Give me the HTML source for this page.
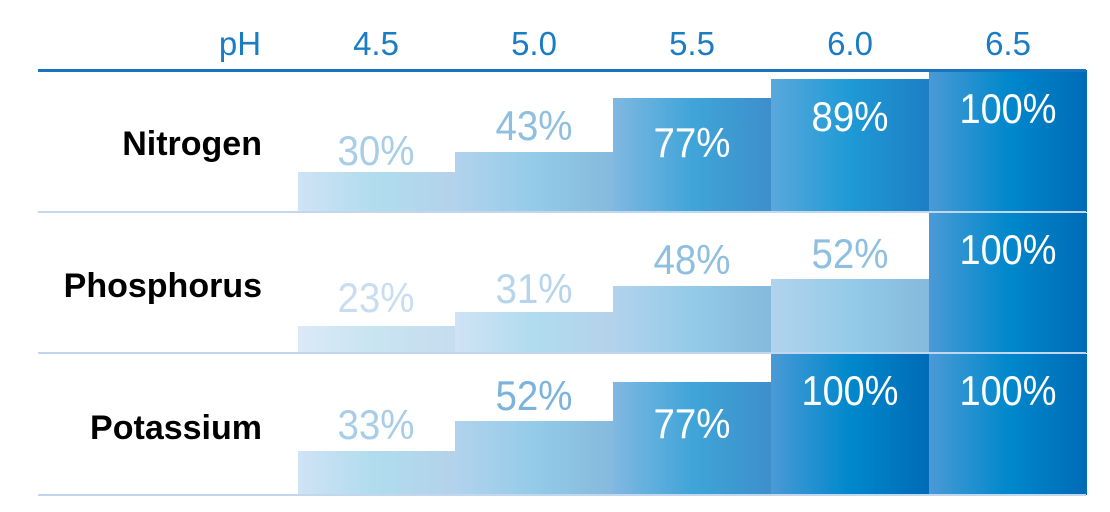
<!DOCTYPE html>
<html><head><meta charset="utf-8"><style>
html,body{margin:0;padding:0;background:#fff;}
svg{display:block;}
text{font-family:"Liberation Sans",sans-serif;}
.v{font-size:42px;text-anchor:middle;}
.r{font-size:34px;font-weight:bold;text-anchor:end;fill:#000;}
.h{font-size:33px;fill:#1a7cc4;text-anchor:middle;}
</style></head><body>
<svg width="1110" height="512" viewBox="0 0 1110 512" xmlns="http://www.w3.org/2000/svg">
<defs>
<linearGradient id="g0" x1="0" x2="1"><stop offset="0" stop-color="#dbe9f6"/><stop offset="0.5" stop-color="#c8e4f2"/><stop offset="1" stop-color="#c6dcef"/></linearGradient>
<linearGradient id="gA" x1="0" x2="1"><stop offset="0" stop-color="#cfe3f4"/><stop offset="0.5" stop-color="#b0dcee"/><stop offset="1" stop-color="#b4d2ea"/></linearGradient>
<linearGradient id="gB" x1="0" x2="1"><stop offset="0" stop-color="#b2d3ed"/><stop offset="0.5" stop-color="#94cbe8"/><stop offset="1" stop-color="#86b9dd"/></linearGradient>
<linearGradient id="gC" x1="0" x2="1"><stop offset="0" stop-color="#80b8e2"/><stop offset="0.5" stop-color="#3fa5d8"/><stop offset="1" stop-color="#3e8fcb"/></linearGradient>
<linearGradient id="gD" x1="0" x2="1"><stop offset="0" stop-color="#5aa8dc"/><stop offset="0.5" stop-color="#1e9ad6"/><stop offset="1" stop-color="#1d7ec4"/></linearGradient>
<linearGradient id="gE" x1="0" x2="1"><stop offset="0" stop-color="#4a9ad6"/><stop offset="0.5" stop-color="#0088cc"/><stop offset="1" stop-color="#006bb6"/></linearGradient>
</defs>
<text class="h" x="240" y="55">pH</text>
<text class="h" x="376" y="55">4.5</text>
<text class="h" x="534" y="55">5.0</text>
<text class="h" x="692" y="55">5.5</text>
<text class="h" x="850" y="55">6.0</text>
<text class="h" x="1008" y="55">6.5</text>
<rect x="298" y="172" width="157" height="40" fill="url(#gA)"/>
<rect x="455" y="152" width="158" height="60" fill="url(#gB)"/>
<rect x="613" y="98" width="158" height="114" fill="url(#gC)"/>
<rect x="771" y="79" width="158" height="133" fill="url(#gD)"/>
<rect x="929" y="70" width="158" height="142" fill="url(#gE)"/>
<rect x="298" y="326" width="157" height="27" fill="url(#g0)"/>
<rect x="455" y="312" width="158" height="41" fill="url(#gA)"/>
<rect x="613" y="286" width="158" height="67" fill="url(#gB)"/>
<rect x="771" y="279" width="158" height="74" fill="url(#gB)"/>
<rect x="929" y="213" width="158" height="140" fill="url(#gE)"/>
<rect x="298" y="451" width="157" height="44" fill="url(#gA)"/>
<rect x="455" y="421" width="158" height="74" fill="url(#gB)"/>
<rect x="613" y="382" width="158" height="113" fill="url(#gC)"/>
<rect x="771" y="354" width="158" height="141" fill="url(#gE)"/>
<rect x="929" y="354" width="158" height="141" fill="url(#gE)"/>
<rect x="38" y="69" width="1048" height="3" fill="#1a73c0"/>
<rect x="38" y="211" width="1048" height="2" fill="#c2d6ee"/>
<rect x="38" y="352" width="1048" height="2" fill="#c2d6ee"/>
<rect x="38" y="494" width="1048" height="2" fill="#c2d6ee"/>
<text class="r" x="262" y="155">Nitrogen</text>
<text class="r" x="262" y="297">Phosphorus</text>
<text class="r" x="262" y="439">Potassium</text>
<text class="v" x="376" y="165" fill="#a8cde6" textLength="77" lengthAdjust="spacingAndGlyphs">30%</text>
<text class="v" x="534" y="140" fill="#8fbfe0" textLength="77" lengthAdjust="spacingAndGlyphs">43%</text>
<text class="v" x="692" y="157" fill="#fff" textLength="77" lengthAdjust="spacingAndGlyphs">77%</text>
<text class="v" x="850" y="131" fill="#fff" textLength="77" lengthAdjust="spacingAndGlyphs">89%</text>
<text class="v" x="1008" y="123" fill="#fff" textLength="97" lengthAdjust="spacingAndGlyphs">100%</text>
<text class="v" x="376" y="312" fill="#c8def0" textLength="77" lengthAdjust="spacingAndGlyphs">23%</text>
<text class="v" x="534" y="303" fill="#b6d5ec" textLength="77" lengthAdjust="spacingAndGlyphs">31%</text>
<text class="v" x="692" y="274" fill="#8fbfe0" textLength="77" lengthAdjust="spacingAndGlyphs">48%</text>
<text class="v" x="850" y="268" fill="#8fbfe0" textLength="77" lengthAdjust="spacingAndGlyphs">52%</text>
<text class="v" x="1008" y="264" fill="#fff" textLength="97" lengthAdjust="spacingAndGlyphs">100%</text>
<text class="v" x="376" y="439" fill="#a8cde6" textLength="77" lengthAdjust="spacingAndGlyphs">33%</text>
<text class="v" x="534" y="410" fill="#7bb3dc" textLength="77" lengthAdjust="spacingAndGlyphs">52%</text>
<text class="v" x="692" y="438" fill="#fff" textLength="77" lengthAdjust="spacingAndGlyphs">77%</text>
<text class="v" x="850" y="405" fill="#fff" textLength="97" lengthAdjust="spacingAndGlyphs">100%</text>
<text class="v" x="1008" y="405" fill="#fff" textLength="97" lengthAdjust="spacingAndGlyphs">100%</text>
</svg>
</body></html>
